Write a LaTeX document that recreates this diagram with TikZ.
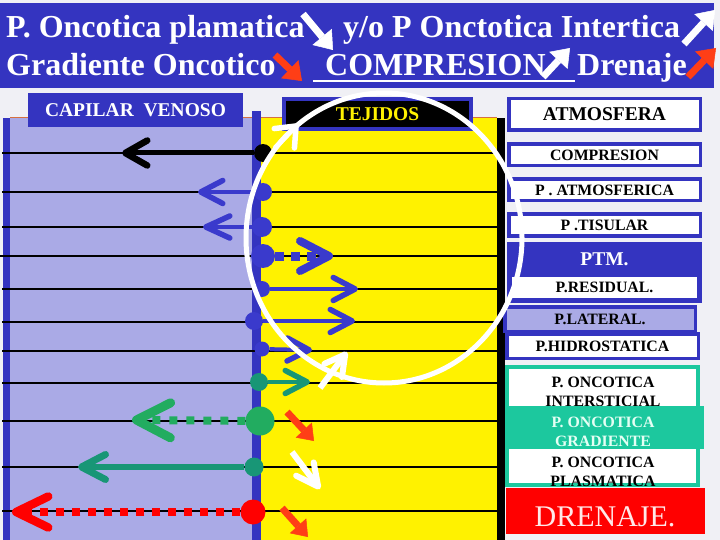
\documentclass[tikz,border=0pt]{standalone}
\usepackage{fontspec}
\setmainfont{Liberation Serif}
\usetikzlibrary{arrows.meta}
\definecolor{bannerblue}{RGB}{52,52,192}
\definecolor{arrowblue}{RGB}{58,58,204}
\definecolor{lav}{RGB}{170,170,230}
\definecolor{bgc}{RGB}{240,240,245}
\definecolor{mint}{RGB}{28,200,158}
\definecolor{tealarr}{RGB}{24,150,118}
\definecolor{greenarr}{RGB}{34,172,96}
\definecolor{redorange}{RGB}{255,62,22}
\definecolor{gradtext}{RGB}{228,255,244}
\definecolor{drentext}{RGB}{255,232,232}
\definecolor{edgeorange}{RGB}{214,112,64}
\begin{document}
\begin{tikzpicture}[x=1pt,y=-1pt,
  hline/.style={black,line width=1.1pt},
  bits/.style={black,line width=1.8pt,dash pattern=on 3pt off 1.4pt},
  dotnode/.style={circle,inner sep=0pt,fill=#1,draw=none},
  bantext/.style={white,font=\fontsize{32}{34}\selectfont\bfseries,inner sep=0pt,anchor=base west},
  banarrow/.style={draw=#1,line width=7pt,-{Triangle[length=17pt,width=25pt,line width=0.5pt]}},
  blockarrow/.style={draw=#1,line width=7pt,-{Triangle[length=15pt,width=22pt,line width=0.5pt]}},
  vhead/.style n args={3}{-{Straight Barb[round,length=#1,width=#2,line width=#3]}},
  boxtxt/.style={font=\fontsize{15.8}{19}\selectfont\bfseries,inner sep=0pt,align=center},
  bigtxt/.style={font=\fontsize{19.5}{22}\selectfont\bfseries},
  framebox/.style={draw=#1,line width=3.5pt,fill=white,inner sep=0pt},
]
\useasboundingbox (0,0) rectangle (720,540);
\fill[bgc] (0,0) rectangle (720,540);
% ---------------- banner
\fill[bannerblue] (0,3) rectangle (714,88);
\node[bantext] (b1) at (6,38) {P. Oncotica plamatica};
\node[bantext] (b2) at (343,38) {y/o P Onctotica Intertica};
\node[bantext] (b3) at (6,76) {Gradiente Oncotico};
\node[bantext] (b4) at (325,76) {COMPRESION};
\node[bantext] (b5) at (577,76) {Drenaje};
\draw[white,line width=2.6pt] (313,81) -- (575,81);
\coordinate (ba1s) at (303,14); \coordinate (ba1e) at (333,50);
\coordinate (ba2s) at (684,44); \coordinate (ba2e) at (715,10);
\coordinate (ba3s) at (275,55); \coordinate (ba3e) at (302,81);
\coordinate (ba4s) at (543,77); \coordinate (ba4e) at (570,48);
\coordinate (ba5s) at (688,77); \coordinate (ba5e) at (716,48);
\draw[banarrow=white] (ba1s) -- (ba1e);
\draw[banarrow=white] (ba2s) -- (ba2e);
\draw[banarrow=redorange] (ba3s) -- (ba3e);
\draw[banarrow=white] (ba4s) -- (ba4e);
\draw[banarrow=redorange] (ba5s) -- (ba5e);
% ---------------- columns
\fill[lav] (5,118) rectangle (255,540);
\fill[yellow] (260,118) rectangle (498,540);
\draw[edgeorange,line width=1pt] (10,118) -- (252,118) (261,118) -- (497,118);
\fill[bannerblue] (3,118) rectangle (10,540);
\fill[bannerblue] (252,111) rectangle (261,540);
\fill[black] (497,118) rectangle (505,540);
\node[fill=bannerblue,minimum width=215pt,minimum height=34pt,inner sep=0pt,text=white,bigtxt] (cap) at (135.5,110) {CAPILAR\ \ VENOSO};
\node[draw=bannerblue,line width=4pt,fill=black,minimum width=187pt,minimum height=30pt,inner sep=0pt,text=yellow,bigtxt] (tej) at (377.5,114) {TEJIDOS};
% horizontal lines
\foreach \yy in {153,192,227,256,289,322,351,383,421,467,511}
  \draw[hline] (2,\yy) -- (498,\yy);
\draw[bits] (0,256) -- (36,256);
\draw[bits] (155,289) -- (225,289);
\draw[bits] (18,322) -- (112,322);
\draw[bits] (6,383) -- (42,383);
\draw[bits] (22,467) -- (75,467);
\draw[bits] (377,322) -- (403,322);
\draw[bits] (380,467) -- (405,467);
\draw[bits] (305,511) -- (340,511);
\draw[bits] (283,153) -- (292,153);
\draw[bits] (275,227) -- (290,227);
% ---------------- dots and arrows
\node[dotnode=black,minimum size=18pt] (d1) at (263,153) {};
\coordinate (t1) at (122,153);
\draw[black,line width=5pt,vhead={22pt}{25pt}{6.5pt}] (d1) -- (t1);
\node[dotnode=arrowblue,minimum size=18pt] (d2) at (263,192) {};
\coordinate (t2) at (198,192);
\draw[arrowblue,line width=4pt,vhead={22pt}{23pt}{5.5pt}] (d2) -- (t2);
\node[dotnode=arrowblue,minimum size=20pt] (d3) at (262,227) {};
\coordinate (t3) at (203,227);
\draw[arrowblue,line width=4pt,vhead={24pt}{22pt}{5.5pt}] (d3) -- (t3);
\node[dotnode=arrowblue,minimum size=24pt] (d4) at (263,256) {};
\coordinate (t4) at (333,256);
\draw[arrowblue,line width=9pt,dash pattern=on 9pt off 7pt,vhead={29pt}{30pt}{8pt}] (d4) -- (t4);
\node[dotnode=arrowblue,minimum size=16pt] (d5) at (262,289) {};
\coordinate (t5) at (358,289);
\draw[arrowblue,line width=4.5pt,vhead={22pt}{23pt}{5.5pt}] (d5) -- (t5);
\node[dotnode=arrowblue,minimum size=18pt] (d6) at (254,321) {};
\coordinate (t6) at (355,321);
\draw[arrowblue,line width=4.5pt,vhead={22pt}{23pt}{5.5pt}] (d6) -- (t6);
\node[dotnode=arrowblue,minimum size=15pt] (d7) at (262,349) {};
\coordinate (t7) at (312,350);
\draw[arrowblue,line width=4pt,vhead={22pt}{23pt}{5.5pt}] (d7) -- (t7);
\node[dotnode=tealarr,minimum size=18pt] (d8) at (259,382) {};
\coordinate (t8) at (310,382);
\draw[tealarr,line width=4.5pt,vhead={22pt}{23pt}{5.5pt}] (d8) -- (t8);
\node[dotnode=greenarr,minimum size=29pt] (d9) at (260,421) {};
\coordinate (t9) at (132,420);
\draw[greenarr,line width=8pt,dash pattern=on 8pt off 9pt,vhead={34pt}{35pt}{9pt}] (d9) -- (t9);
\node[dotnode=tealarr,minimum size=19pt] (d10) at (254,467) {};
\coordinate (t10) at (78,467);
\draw[tealarr,line width=6.5pt,vhead={24pt}{25pt}{7pt}] (d10) -- (t10);
\node[dotnode=red,minimum size=25pt] (d11) at (253,512) {};
\coordinate (t11) at (12,512);
\draw[red,line width=8pt,dash pattern=on 8pt off 8pt,vhead={32pt}{31pt}{8.5pt}] (d11) -- (t11);
% diagonal arrows in the tissue
\coordinate (r1s) at (287,412); \coordinate (r1e) at (314,441);
\draw[blockarrow=redorange] (r1s) -- (r1e);
\coordinate (r2s) at (282,508); \coordinate (r2e) at (308,537);
\draw[blockarrow=redorange] (r2s) -- (r2e);
\coordinate (w1s) at (292,452); \coordinate (w1e) at (320,489);
\draw[white,line width=6pt,vhead={22pt}{22pt}{6pt}] (w1s) -- (w1e);
% ---------------- right column
\node[framebox=bannerblue,minimum width=191.5pt,minimum height=31.5pt,bigtxt] (atm) at (604.5,114.5) {ATMOSFERA};
\node[framebox=bannerblue,minimum width=191.5pt,minimum height=21.5pt,boxtxt] (comp) at (604.5,155) {COMPRESION};
\node[framebox=bannerblue,minimum width=191.5pt,minimum height=21.5pt,boxtxt] (patm) at (604.5,190) {P . ATMOSFERICA};
\node[framebox=bannerblue,minimum width=191.5pt,minimum height=21.5pt,boxtxt] (ptis) at (604.5,225) {P .TISULAR};
\node[fill=bannerblue,minimum width=195pt,minimum height=34pt,inner sep=0pt,text=white,bigtxt] (ptm) at (604.5,259) {PTM.};
\node[framebox=bannerblue,line width=5pt,minimum width=190pt,minimum height=26pt,boxtxt] (res) at (604.5,287.5) {P.RESIDUAL.};
\node[framebox=bannerblue,fill=lav,minimum width=190.5pt,minimum height=24.5pt,boxtxt] (lat) at (600,319) {P.LATERAL.};
\node[framebox=bannerblue,minimum width=191.5pt,minimum height=24.5pt,boxtxt] (hid) at (602.5,346) {P.HIDROSTATICA};
\node[framebox=mint,line width=4pt,minimum width=191pt,minimum height=118pt] (onc) at (602.5,426) {};
\node[boxtxt] (oint) at (603,391.5) {P. ONCOTICA\\INTERSTICIAL};
\node[fill=mint,minimum width=197pt,minimum height=43pt,inner sep=0pt] (grad) at (605.5,427.5) {};
\node[boxtxt,text=gradtext] (ograd) at (603,431.5) {P. ONCOTICA\\GRADIENTE};
\node[boxtxt] (opla) at (603,471.5) {P. ONCOTICA\\PLASMATICA};
\node[fill=red,minimum width=199pt,minimum height=46pt,inner sep=0pt] (dren) at (605.5,511) {};
\node[text=drentext,font=\fontsize{30}{32}\selectfont,inner sep=0pt] (drent) at (605,517) {DRENAJE.};
% ---------------- white circle with arrows
\draw[white,line width=5pt] (384,238) ellipse [x radius=138pt,y radius=145pt];
\coordinate (ca) at (275,148); \coordinate (cb) at (298,124);
\draw[white,line width=5pt,vhead={17pt}{28pt}{5.5pt}] (ca) -- (cb);
\coordinate (w2s) at (320,388); \coordinate (w2e) at (347,352);
\draw[white,line width=6pt,vhead={20pt}{22pt}{6pt}] (w2s) -- (w2e);
\end{tikzpicture}
\end{document}
